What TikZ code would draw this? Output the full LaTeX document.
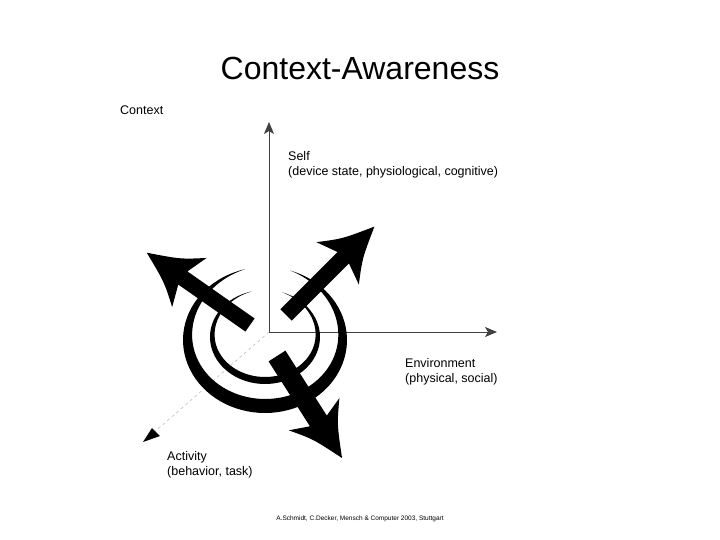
\documentclass[tikz,border=0pt]{standalone}
\usepackage{fontspec}
\setmainfont{Liberation Sans}
\usetikzlibrary{arrows.meta,calc}
\newcommand{\bigarr}[5]{% tail, angle, L, s, h
\begin{scope}[shift={#1},rotate=#2]
\fill (0,-#4) -- ({#3-#5+8},-#4) -- ({#3-#5},-30) .. controls ({#3-#5*0.6},-14) .. (#3,0)
 .. controls ({#3-#5*0.6},14) .. ({#3-#5},30) -- ({#3-#5+8},#4) -- (0,#4) -- cycle;
\end{scope}}
\begin{document}
\begin{tikzpicture}[x=1pt,y=-1pt,
 axis/.style={draw=black!75,line width=1pt,-{Stealth[length=12pt,width=10pt,inset=3pt]}},
 lbl/.style={anchor=north west,align=left,font=\fontsize{12.5}{15}\selectfont,inner sep=0pt}]
\useasboundingbox (0,0) rectangle (720,540);
\node (title) at (360,68) {\fontsize{32}{36}\selectfont Context-Awareness};
\node[lbl] (ctx) at (120,106) {Context};
\coordinate (o) at (269,332);
\coordinate (se) at (269,122);
\coordinate (en) at (497,332);
\coordinate (ac) at (143,442);
\draw[axis] (o) -- (se);
\draw[axis] (o) -- (en);
\draw[draw=black!25,dashed,line width=0.6pt] (o) -- ($(o)!0.93!(ac)$);
\fill (143,442) -- (160,436) -- (152,428) -- cycle;
% spirals
\fill plot[domain=-72:256,samples=80] ({265+82*cos(\x)},{340+73*sin(\x)})
 -- plot[domain=256:-72,samples=80] ({265+(82-14*sin((\x+72)*0.5488))*cos(\x)},{340+(73-14*sin((\x+72)*0.5488))*sin(\x)}) -- cycle;
\fill plot[domain=-72:256,samples=80] ({265+55*cos(\x)},{337+47*sin(\x)})
 -- plot[domain=256:-72,samples=80] ({265+(55-7*sin((\x+72)*0.5488))*cos(\x)},{337+(47-7*sin((\x+72)*0.5488))*sin(\x)}) -- cycle;
% arrows
\bigarr{(286,315)}{45}{125}{8}{52}
\bigarr{(250,325)}{145}{126}{8}{52}
\bigarr{(277,356)}{-57.5}{121}{10}{52}
\node[lbl] (self) at (288,151) {Self\\(device state, physiological, cognitive)};
\node[lbl] (env) at (405,358) {Environment\\(physical, social)};
\node[lbl] (act) at (167,451) {Activity\\(behavior, task)};
\node (foot) at (360,519) {\fontsize{6.5}{8}\selectfont A.Schmidt, C.Decker, Mensch \& Computer 2003, Stuttgart};
\end{tikzpicture}
\end{document}
